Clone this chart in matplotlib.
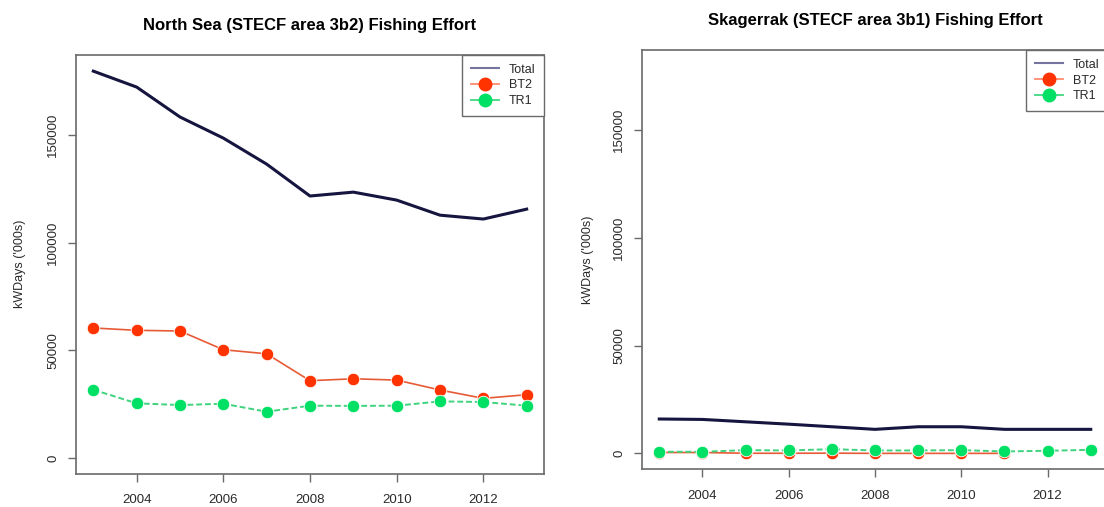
import matplotlib
matplotlib.use('Agg')
import matplotlib.pyplot as plt
from matplotlib.lines import Line2D

plt.rcParams['font.family'] = ['Liberation Sans', 'DejaVu Sans']

years = [2003, 2004, 2005, 2006, 2007, 2008, 2009, 2010, 2011, 2012, 2013]

# North Sea (3b2), kWDays '000s
ns_total = [179700, 172300, 158400, 148600, 136500, 121700, 123500, 119800, 112800, 111000, 115600]
ns_bt2 = [60400, 59300, 59000, 50300, 48400, 35900, 36800, 36200, 31600, 27700, 29400]
ns_tr1 = [31700, 25400, 24600, 25200, 21500, 24300, 24200, 24300, 26300, 26000, 24300]

# Skagerrak (3b1) - BT2 stops in 2011
sk_total = [16000, 15800, 14700, 13600, 12400, 11200, 12400, 12400, 11200, 11200, 11200]
sk_bt2 = [450, 450, 100, 100, 150, 50, 50, 50, 50]
sk_tr1 = [800, 800, 1550, 1400, 2000, 1400, 1400, 1550, 950, 1250, 1700]

x_ticks = [2004, 2006, 2008, 2010, 2012]
y_ticks = [0, 50000, 100000, 150000]

navy = '#15153f'
red = '#ff3300'
red_line = '#e75a36'
green = '#00e064'
green_line = '#3fd37e'
box = '#6a6a6a'
txt = '#2a2a2a'


def effort_panel(ax, title, total, bt2, tr1):
    ax.plot(years, total, color=navy, lw=2.2, zorder=2)
    ax.plot(years[:len(bt2)], bt2, color=red_line, lw=1.2, zorder=3)
    ax.plot(years[:len(bt2)], bt2, 'o', color=red, ms=9, mec='white', mew=0.6, zorder=4)
    ax.plot(years, tr1, color=green_line, lw=1.4, ls=(0, (3, 1.5)), zorder=5)
    ax.plot(years, tr1, 'o', color=green, ms=9, mec='white', mew=0.6, zorder=6)

    ax.set_xlim(2002.6, 2013.4)
    ax.set_ylim(-7200, 187200)
    ax.set_xticks(x_ticks)
    ax.set_yticks(y_ticks)
    ax.set_yticklabels([str(v) for v in y_ticks], rotation=90, va='center')
    ax.tick_params(direction='out', length=6, width=1, color=box,
                   labelsize=9.5, labelcolor=txt)
    ax.tick_params(axis='x', pad=9)
    ax.tick_params(axis='y', pad=6)
    for s in ax.spines.values():
        s.set_color(box)
        s.set_linewidth(1.2)

    ax.set_title(title, fontsize=12, fontweight='bold', pad=18)
    ax.set_ylabel("kWDays ('000s)", fontsize=9, color=txt)

    handles = [
        Line2D([], [], color='#7474a0', lw=1.5),
        Line2D([], [], color='#ff8a70', lw=1.3, marker='o', ms=9, mfc=red, mec=red),
        Line2D([], [], color='#40d880', lw=1.3, marker='o', ms=9, mfc=green, mec=green),
    ]
    leg = ax.legend(handles, ['Total', 'BT2', 'TR1'], loc='upper right',
                    borderaxespad=0, fancybox=False, framealpha=1,
                    edgecolor=box, fontsize=9, handlelength=2.2,
                    labelspacing=0.3, handletextpad=0.8, borderpad=0.7)
    leg.get_frame().set_linewidth(1.0)
    for t in leg.get_texts():
        t.set_color(txt)


fig = plt.figure(figsize=(11.04, 5.07), dpi=100)
ax1 = fig.add_axes([76 / 1104, 1 - 473.5 / 507, 468 / 1104, 418.5 / 507])
ax2 = fig.add_axes([642 / 1104, 1 - 469 / 507, 466 / 1104, 419 / 507])

effort_panel(ax1, 'North Sea (STECF area 3b2) Fishing Effort', ns_total, ns_bt2, ns_tr1)
effort_panel(ax2, 'Skagerrak (STECF area 3b1) Fishing Effort', sk_total, sk_bt2, sk_tr1)

ax1.yaxis.set_label_coords(-50 / 468, 0.5)
ax2.yaxis.set_label_coords(-48 / 466, 0.5)

fig.savefig('out.png', dpi=100)
